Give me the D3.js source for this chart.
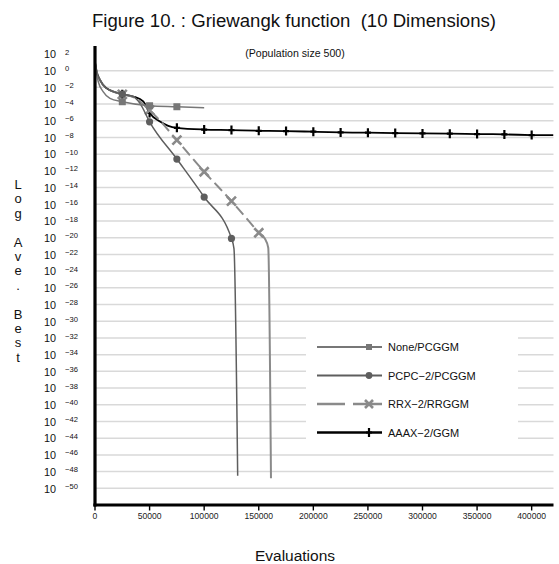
<!DOCTYPE html>
<html>
<head>
<meta charset="utf-8">
<script src="https://cdn.jsdelivr.net/npm/d3@7"></script>
<style>
  html, body { margin: 0; padding: 0; background: #fff; }
  svg { display: block; font-family: "Liberation Sans", Arial, Helvetica, sans-serif; }
</style>
</head>
<body>
<svg id="chart" width="559" height="564"></svg>
<script>
// Best-so-far fitness (log10) for each operator set, sampled along the run.
const evalTicks = [0, 50000, 100000, 150000, 200000, 250000, 300000, 350000, 400000];
const yTickExponents = [2, 0, -2, -4, -6, -8, -10, -12, -14, -16, -18, -20, -22, -24, -26,
  -28, -30, -32, -34, -36, -38, -40, -42, -44, -46, -48, -50];
const gridExponents = [0, -2, -4, -6, -8, -10, -12, -14, -16, -18, -20, -22, -24, -26,
  -28, -30, -32, -34, -36, -38, -40, -42, -44, -46, -48, -50];

const seriesNames = ["None/PCGGM", "PCPC\u22122/PCGGM", "RRX\u22122/RRGGM", "AAAX\u22122/GGM"];

const noneEvals   = [0, 3000, 7600, 13700, 25000, 50000, 75000, 100000];
const noneLogBest = [1.0, -1.33, -2.53, -3.32, -3.72, -4.2, -4.32, -4.44];
const noneMarks   = [25000, 50000, 75000];

const pcpcEvals   = [0, 1500, 4500, 10500, 16500, 25000, 35000, 41200, 50000, 75000, 100000, 125000, 127300, 130700];
const pcpcLogBest = [1.0, -0.1, -1.1, -2.1, -2.5, -2.82, -3.1, -3.91, -6.12, -10.58, -15.13, -20.08, -21.3, -48.5];
const pcpcMarks   = [25000, 50000, 75000, 100000, 125000];

const rrxEvals    = [0, 1500, 4500, 10500, 16500, 25000, 35000, 50000, 75000, 100000, 125000, 150000, 155500, 158700, 161200];
const rrxLogBest  = [1.0, -0.1, -1.1, -2.1, -2.5, -2.84, -3.15, -4.72, -8.31, -12.1, -15.61, -19.41, -20.1, -21.2, -48.8];
const rrxMarks    = [25000, 50000, 75000, 100000, 125000, 150000];

const aaaxEvals   = [0, 1500, 4500, 10500, 16500, 25000, 35000, 44200, 50000, 59500, 67100, 75000,
  100000, 125000, 150000, 175000, 200000, 225000, 250000, 275000, 300000, 325000, 350000, 375000, 400000, 420000];
const aaaxLogBest = [1.0, -0.1, -1.1, -2.1, -2.5, -2.82, -3.1, -3.67, -5.07, -6.1, -6.6, -6.84,
  -7.05, -7.11, -7.20, -7.23, -7.31, -7.39, -7.43, -7.47, -7.51, -7.55, -7.59, -7.63, -7.71, -7.73];
const aaaxMarks   = [25000, 50000, 75000, 100000, 125000, 150000, 175000, 200000, 225000, 250000,
  275000, 300000, 325000, 350000, 375000, 400000];

const svg = d3.select("#chart");

const x = d3.scaleLinear().domain([0, 420000]).range([95, 553.5]);
const y = d3.scaleLog().domain([1e-52, 1e3]).range([505, 45.6]);

const toPoints = (evals, logs) => evals.map((e, i) => ({ e, v: Math.pow(10, logs[i]) }));

// clip everything to the plot frame
svg.append("clipPath").attr("id", "plotClip")
  .append("rect").attr("x", 95).attr("y", 40).attr("width", 458.5).attr("height", 466);

// gridlines
svg.append("g").selectAll("line").data(gridExponents).join("line")
  .attr("x1", x(0)).attr("x2", x(420000))
  .attr("y1", d => y(Math.pow(10, d))).attr("y2", d => y(Math.pow(10, d)))
  .attr("stroke", "#d9d9d9").attr("stroke-width", 1.5);

// legend panel sits over the gridlines
const legendBox = { x: 306, y: 325, w: 212, h: 129 };
svg.append("rect").attr("x", legendBox.x).attr("y", legendBox.y)
  .attr("width", legendBox.w).attr("height", legendBox.h).attr("fill", "#fff");

const line = d3.line().x(d => x(d.e)).y(d => y(d.v)).curve(d3.curveMonotoneX);
const plot = svg.append("g").attr("clip-path", "url(#plotClip)");

// marker painters
function square(g, cx, cy, s, color) {
  g.append("rect").attr("x", cx - s / 2).attr("y", cy - s / 2).attr("width", s).attr("height", s).attr("fill", color);
}
function circle(g, cx, cy, r, color) {
  g.append("circle").attr("cx", cx).attr("cy", cy).attr("r", r).attr("fill", color);
}
function cross(g, cx, cy, h, color) {
  g.append("path").attr("d", `M${cx - h},${cy - h}L${cx + h},${cy + h}M${cx - h},${cy + h}L${cx + h},${cy - h}`)
    .attr("stroke", color).attr("stroke-width", 2.6).attr("fill", "none");
}
function plus(g, cx, cy, h, color) {
  g.append("path").attr("d", `M${cx},${cy - h}L${cx},${cy + h}M${cx - 3},${cy}L${cx + 3},${cy}`)
    .attr("stroke", color).attr("stroke-width", 2.2).attr("fill", "none");
}

const series = [
  { pts: toPoints(aaaxEvals, aaaxLogBest), marks: aaaxMarks, color: "#000", width: 1.8, mark: (g, a, b) => plus(g, a, b, 4.5, "#000") },
  { pts: toPoints(rrxEvals, rrxLogBest), marks: rrxMarks, color: "#8a8a8a", width: 2, dashedTo: 150000, mark: (g, a, b) => cross(g, a, b, 4.5, "#8a8a8a") },
  { pts: toPoints(pcpcEvals, pcpcLogBest), marks: pcpcMarks, color: "#5e5e5e", width: 1.5, mark: (g, a, b) => circle(g, a, b, 3.6, "#5e5e5e") },
  { pts: toPoints(noneEvals, noneLogBest), marks: noneMarks, color: "#777", width: 1.5, mark: (g, a, b) => square(g, a, b, 7, "#777") }
];

series.forEach(s => {
  if (s.dashedTo !== undefined) {
    const k = s.pts.findIndex(p => p.e === s.dashedTo);
    plot.append("path").attr("d", line(s.pts.slice(0, k + 1)))
      .attr("fill", "none").attr("stroke", s.color).attr("stroke-width", s.width).attr("stroke-dasharray", "11,5");
    plot.append("path").attr("d", line(s.pts.slice(k)))
      .attr("fill", "none").attr("stroke", s.color).attr("stroke-width", s.width);
  } else {
    plot.append("path").attr("d", line(s.pts))
      .attr("fill", "none").attr("stroke", s.color).attr("stroke-width", s.width);
  }
  s.pts.filter(p => s.marks.includes(p.e)).forEach(p => s.mark(plot, x(p.e), y(p.v)));
});

// axes
svg.append("line").attr("x1", 95).attr("x2", 95).attr("y1", 46).attr("y2", 506.5)
  .attr("stroke", "#000").attr("stroke-width", 3.2);
svg.append("line").attr("x1", 93.4).attr("x2", 553.5).attr("y1", 505).attr("y2", 505)
  .attr("stroke", "#000").attr("stroke-width", 3.2);

const xTicks = svg.append("g");
xTicks.selectAll("line").data(evalTicks).join("line")
  .attr("x1", d => x(d)).attr("x2", d => x(d)).attr("y1", 505).attr("y2", 510.5)
  .attr("stroke", "#000").attr("stroke-width", 1.4);
xTicks.selectAll("text").data(evalTicks).join("text")
  .attr("x", d => x(d)).attr("y", 518.5).attr("text-anchor", "middle")
  .attr("font-size", 8.6).attr("fill", "#222").text(d => d);

// y tick labels: 10 with superscript exponent
const yLabels = svg.append("g");
yTickExponents.forEach(ex => {
  const yy = y(Math.pow(10, ex));
  const t = yLabels.append("text").attr("y", yy + 4.3).attr("font-size", 10.8).attr("fill", "#111");
  t.append("tspan").attr("x", 44).text("10");
  t.append("tspan").attr("x", 65).attr("y", yy + 0.6).attr("font-size", 7.6)
    .text(ex < 0 ? "\u2212" + Math.abs(ex) : String(ex));
});

// titles
svg.append("text").attr("x", 294).attr("y", 27).attr("text-anchor", "middle")
  .attr("font-size", 17.5).attr("textLength", 404).attr("lengthAdjust", "spacingAndGlyphs")
  .attr("fill", "#111").style("white-space", "pre")
  .text("Figure 10. : Griewangk function  (10 Dimensions)");
svg.append("text").attr("x", 295).attr("y", 57).attr("text-anchor", "middle")
  .attr("font-size", 10.6).attr("fill", "#111").text("(Population size 500)");
svg.append("text").attr("x", 295).attr("y", 561).attr("text-anchor", "middle")
  .attr("font-size", 15.5).attr("fill", "#111").text("Evaluations");

// stacked y-axis title
const yTitle = ["L", "o", "g", "", "A", "v", "e", ".", "", "B", "e", "s", "t"];
svg.append("g").selectAll("text").data(yTitle).join("text")
  .attr("x", 18).attr("y", (d, i) => 189 + i * 14.4).attr("text-anchor", "middle")
  .attr("font-size", 13).attr("fill", "#111").text(d => d);

// legend entries
const legendY = [347, 375.5, 404, 432.5];
const lg = svg.append("g");
series.slice().reverse().forEach((s, i) => {
  const ly = legendY[i];
  const ln = lg.append("line").attr("x1", 317).attr("x2", 382).attr("y1", ly).attr("y2", ly)
    .attr("stroke", s.color).attr("stroke-width", s.width + 0.6);
  if (s.dashedTo !== undefined) ln.attr("stroke-dasharray", "28,8,40");
  if (i === 0) square(lg, 369, ly, 6, s.color);
  if (i === 1) circle(lg, 369, ly, 3.4, s.color);
  if (i === 2) cross(lg, 369, ly, 4, s.color);
  if (i === 3) plus(lg, 369, ly, 4.5, s.color);
  lg.append("text").attr("x", 388).attr("y", ly + 4).attr("font-size", 11).attr("fill", "#111").text(seriesNames[i]);
});
</script>
</body>
</html>
